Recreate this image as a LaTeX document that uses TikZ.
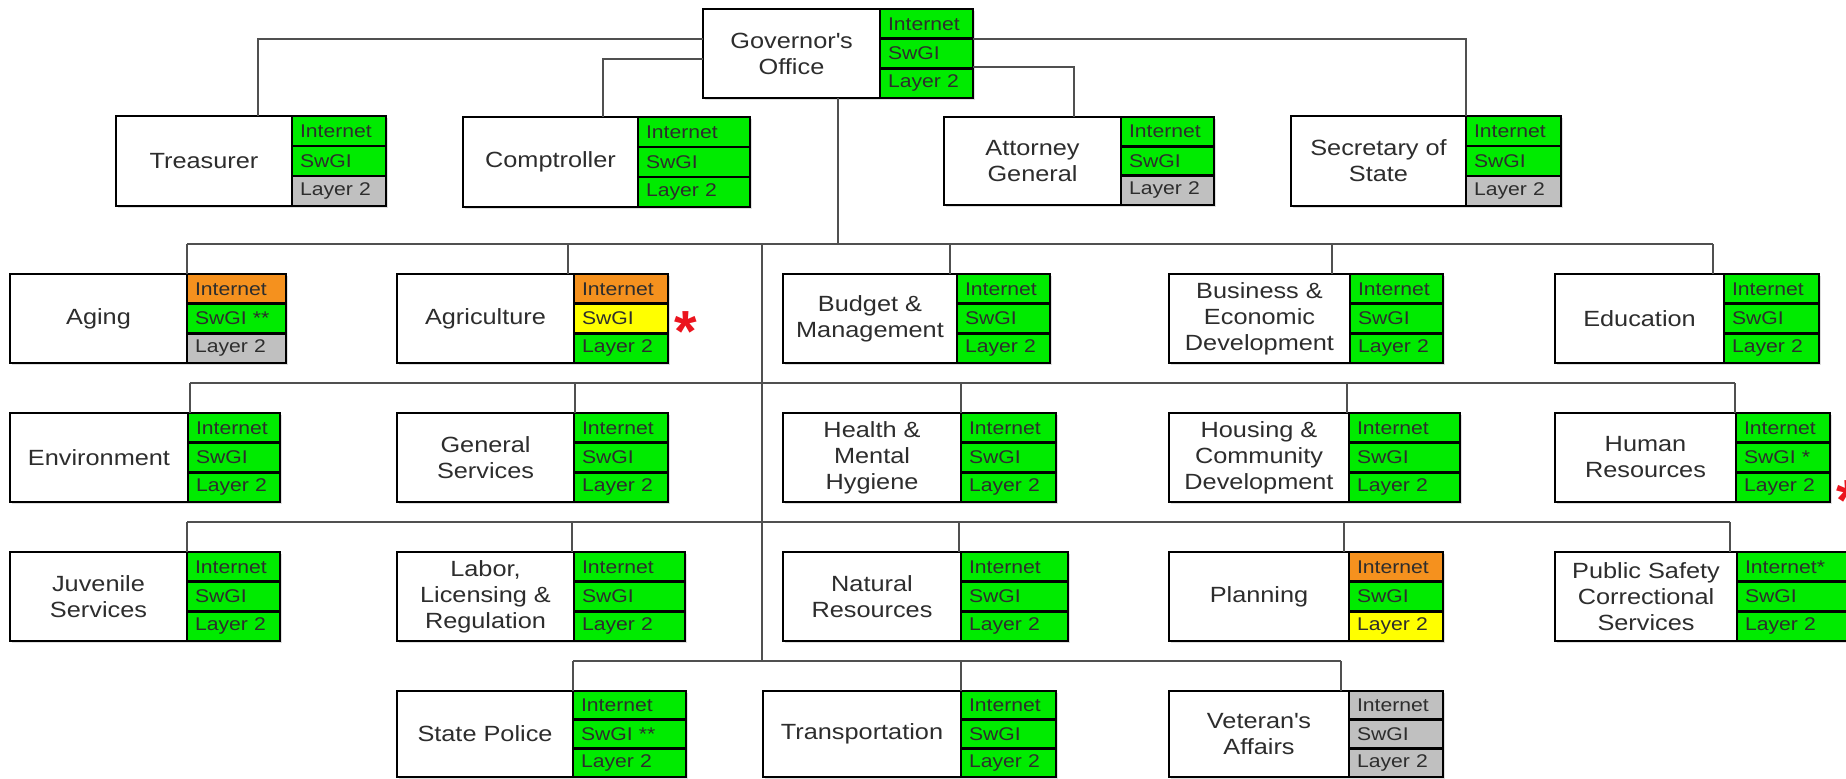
\documentclass[tikz,border=0pt]{standalone}
\usepackage{fontspec}
\usetikzlibrary{shadows}
\setmainfont{Liberation Sans}[FakeStretch=1.15]
\newfontfamily\starfont{Liberation Sans}
\definecolor{cgreen}{RGB}{0,235,0}
\definecolor{corange}{RGB}{245,145,30}
\definecolor{cyellow}{RGB}{255,255,0}
\definecolor{cgray}{RGB}{192,192,192}
\definecolor{cline}{RGB}{80,80,80}
\definecolor{ctext}{RGB}{45,45,45}
\definecolor{cstar}{RGB}{235,20,30}
\tikzset{
  softshadow/.style={drop shadow={opacity=0.25, shadow xshift=0.8pt, shadow yshift=-0.8pt}},
  agbox/.style={draw=black, line width=1.2pt, fill=white, outer sep=0pt, inner sep=2pt,
    align=center, font=\fontsize{11}{13}\selectfont, text=ctext, softshadow},
  cell/.style={draw=black, line width=1.2pt, outer sep=0pt, inner xsep=4pt, inner ysep=0pt,
    align=left, font=\fontsize{9.2}{10}\selectfont, text=ctext, softshadow},
  conn/.style={draw=cline, line width=1pt},
  redstar/.style={text=cstar, font=\starfont\bfseries\fontsize{29}{29}\selectfont, inner sep=0pt, anchor=base}
}
% name, x, y, width, height, label
\newcommand\agency[6]{%
  \pgfmathsetmacro\agw{#4*0.5}\pgfmathsetmacro\agh{#5*0.5}%
  \node[agbox, minimum width=\agw pt, minimum height=\agh pt, anchor=north west] (#1) at (#2,#3) {#6};}
% name, status width, total height, c1,t1,c2,t2,c3,t3
\newcommand\cells[9]{%
  \pgfmathsetmacro\cw{(#2-16)*0.5}\pgfmathsetmacro\ch{#3/6}%
  \node[cell, fill=#4, text width=\cw pt, minimum height=\ch pt, anchor=north west] (#1-1) at (#1.north east) {#5};
  \node[cell, fill=#6, text width=\cw pt, minimum height=\ch pt, anchor=north west] (#1-2) at (#1-1.south west) {#7};
  \node[cell, fill=#8, text width=\cw pt, minimum height=\ch pt, anchor=north west] (#1-3) at (#1-2.south west) {#9};}
\begin{document}
\begin{tikzpicture}[x=0.5pt, y=-0.5pt]
\useasboundingbox (0,0) rectangle (1846,779);
\clip (0,0) rectangle (1846,779);
\fill[white] (0,0) rectangle (1846,779);
% bus coordinates
\coordinate (bus1) at (0,244);
\coordinate (bus2) at (0,383);
\coordinate (bus3) at (0,522);
\coordinate (bus4) at (0,661);
\coordinate (t2a) at (762,244);
\coordinate (t2b) at (762,661);

% Row 0
\agency{gov}{703}{9}{177}{89}{Governor\textquotesingle s\\Office}
\cells{gov}{93}{89}{cgreen}{Internet}{cgreen}{SwGI}{cgreen}{Layer 2}
% Row 1
\agency{treas}{116}{116}{176}{90}{Treasurer}
\cells{treas}{94}{90}{cgreen}{Internet}{cgreen}{SwGI}{cgray}{Layer 2}
\agency{comp}{463}{117}{175}{90}{Comptroller}
\cells{comp}{112}{90}{cgreen}{Internet}{cgreen}{SwGI}{cgreen}{Layer 2}
\agency{atty}{944}{117}{177}{88}{Attorney\\General}
\cells{atty}{93}{88}{cgreen}{Internet}{cgreen}{SwGI}{cgray}{Layer 2}
\agency{sec}{1291}{116}{175}{90}{Secretary of\\State}
\cells{sec}{95}{90}{cgreen}{Internet}{cgreen}{SwGI}{cgray}{Layer 2}
% Row 2
\agency{aging}{10}{274}{177}{89}{Aging}
\cells{aging}{99}{89}{corange}{Internet}{cgreen}{SwGI **}{cgray}{Layer 2}
\agency{agri}{397}{274}{177}{89}{Agriculture}
\cells{agri}{94}{89}{corange}{Internet}{cyellow}{SwGI}{cgreen}{Layer 2}
\agency{budget}{783}{274}{174}{89}{Budget \&\\Management}
\cells{budget}{93}{89}{cgreen}{Internet}{cgreen}{SwGI}{cgreen}{Layer 2}
\agency{business}{1169}{274}{181}{89}{Business \&\\Economic\\Development}
\cells{business}{93}{89}{cgreen}{Internet}{cgreen}{SwGI}{cgreen}{Layer 2}
\agency{edu}{1555}{274}{169}{89}{Education}
\cells{edu}{95}{89}{cgreen}{Internet}{cgreen}{SwGI}{cgreen}{Layer 2}
% Row 3
\agency{env}{10}{413}{178}{89}{Environment}
\cells{env}{92}{89}{cgreen}{Internet}{cgreen}{SwGI}{cgreen}{Layer 2}
\agency{gen}{397}{413}{177}{89}{General\\Services}
\cells{gen}{94}{89}{cgreen}{Internet}{cgreen}{SwGI}{cgreen}{Layer 2}
\agency{health}{783}{413}{178}{89}{Health \&\\Mental\\Hygiene}
\cells{health}{95}{89}{cgreen}{Internet}{cgreen}{SwGI}{cgreen}{Layer 2}
\agency{housing}{1169}{413}{180}{89}{Housing \&\\Community\\Development}
\cells{housing}{111}{89}{cgreen}{Internet}{cgreen}{SwGI}{cgreen}{Layer 2}
\agency{hr}{1555}{413}{181}{89}{Human\\Resources}
\cells{hr}{94}{89}{cgreen}{Internet}{cgreen}{SwGI *}{cgreen}{Layer 2}
% Row 4
\agency{juv}{10}{552}{177}{89}{Juvenile\\Services}
\cells{juv}{93}{89}{cgreen}{Internet}{cgreen}{SwGI}{cgreen}{Layer 2}
\agency{labor}{397}{552}{177}{89}{Labor,\\Licensing \&\\Regulation}
\cells{labor}{111}{89}{cgreen}{Internet}{cgreen}{SwGI}{cgreen}{Layer 2}
\agency{natural}{783}{552}{178}{89}{Natural\\Resources}
\cells{natural}{107}{89}{cgreen}{Internet}{cgreen}{SwGI}{cgreen}{Layer 2}
\agency{planning}{1169}{552}{180}{89}{Planning}
\cells{planning}{94}{89}{corange}{Internet}{cgreen}{SwGI}{cyellow}{Layer 2}
\agency{ps}{1555}{552}{182}{89}{Public Safety\\Correctional\\Services}
\cells{ps}{120}{89}{cgreen}{Internet*}{cgreen}{SwGI}{cgreen}{Layer 2}
% Row 5
\agency{sp}{397}{691}{176}{86}{State Police}
\cells{sp}{113}{86}{cgreen}{Internet}{cgreen}{SwGI **}{cgreen}{Layer 2}
\agency{trans}{763}{691}{198}{86}{Transportation}
\cells{trans}{95}{86}{cgreen}{Internet}{cgreen}{SwGI}{cgreen}{Layer 2}
\agency{vet}{1169}{691}{180}{86}{Veteran\textquotesingle s\\Affairs}
\cells{vet}{94}{86}{cgray}{Internet}{cgray}{SwGI}{cgray}{Layer 2}

% Governor connectors
\draw[conn] (gov.west |- 0,39) -| (treas.north -| 258,0);
\draw[conn] (gov.west |- 0,59) -| (comp.north -| 603,0);
\draw[conn] (gov-1.east |- 0,39) -| (sec.north east);
\draw[conn] (gov-2.east |- 0,67) -| (atty.north -| 1074,0);
\draw[conn] (gov.south -| 838,0) -- (bus1 -| 838,0);
\draw[conn] (t2a) -- (t2b);
% buses
\draw[conn] (bus1 -| aging.north east) -- (bus1 -| 1713,0);
\draw[conn] (bus2 -| 190,0) -- (bus2 -| 1735,0);
\draw[conn] (bus3 -| juv.north east) -- (bus3 -| 1730,0);
\draw[conn] (bus4 -| sp.north east) -- (bus4 -| 1341,0);
% drops row 2
\draw[conn] (aging.north east) -- (bus1 -| aging.north east);
\draw[conn] (agri.north -| 568,0) -- (bus1 -| 568,0);
\draw[conn] (budget.north -| 950,0) -- (bus1 -| 950,0);
\draw[conn] (business.north -| 1332,0) -- (bus1 -| 1332,0);
\draw[conn] (edu.north -| 1713,0) -- (bus1 -| 1713,0);
% drops row 3
\draw[conn] (env.north -| 190,0) -- (bus2 -| 190,0);
\draw[conn] (gen.north -| 575,0) -- (bus2 -| 575,0);
\draw[conn] (health.north east) -- (bus2 -| health.north east);
\draw[conn] (housing.north -| 1347,0) -- (bus2 -| 1347,0);
\draw[conn] (hr.north -| 1735,0) -- (bus2 -| 1735,0);
% drops row 4
\draw[conn] (juv.north east) -- (bus3 -| juv.north east);
\draw[conn] (labor.north -| 572,0) -- (bus3 -| 572,0);
\draw[conn] (natural.north -| 959,0) -- (bus3 -| 959,0);
\draw[conn] (planning.north -| 1344,0) -- (bus3 -| 1344,0);
\draw[conn] (ps.north -| 1730,0) -- (bus3 -| 1730,0);
% drops row 5
\draw[conn] (sp.north east) -- (bus4 -| sp.north east);
\draw[conn] (trans.north east) -- (bus4 -| trans.north east);
\draw[conn] (vet.north -| 1341,0) -- (bus4 -| 1341,0);

% red stars
\node[redstar] (star1) at (686,352) {*};
\node[redstar] (star2) at (1848,521) {*};
\end{tikzpicture}
\end{document}
